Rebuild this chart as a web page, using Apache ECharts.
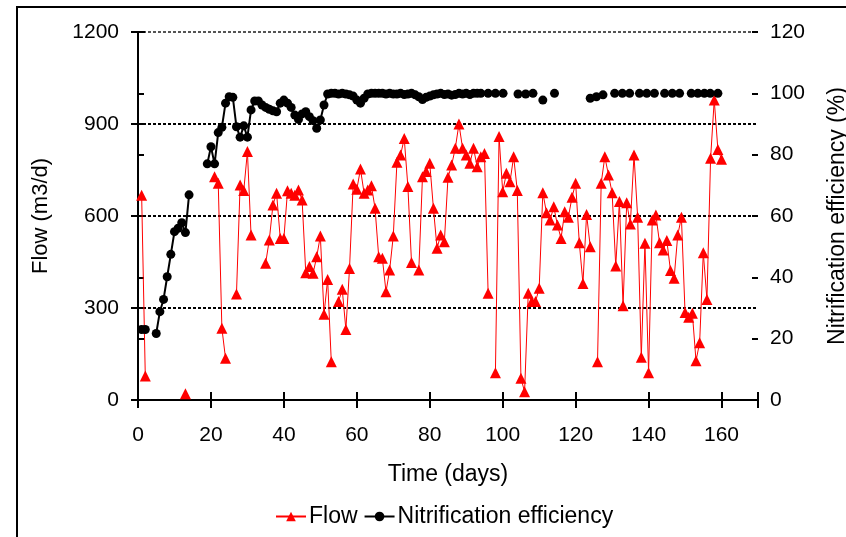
<!DOCTYPE html>
<html>
<head>
<meta charset="utf-8">
<title>Flow and nitrification efficiency</title>
<script src="https://cdn.jsdelivr.net/npm/echarts@6.0.0/dist/echarts.min.js"></script>
<style>
  html, body { margin: 0; padding: 0; background: #fff; }
  #chart { width: 846px; height: 537px; }
</style>
</head>
<body>
<div id="chart"></div>
<script>
const font = 'Liberation Sans, Arial, sans-serif'

// x axis (days) and the two y axes
const xTicks = [0, 20, 40, 60, 80, 100, 120, 140, 160]
const flowTicks = [0, 300, 600, 900, 1200]
const effTicks = [0, 20, 40, 60, 80, 100, 120]

// Flow (m3/d), null = no sample (line is broken there)
const flowDays = [
  1, 2, 3,
  13, 14,
  21, 22, 23, 24, 25,
  27, 28, 29, 30, 31, 32,
  35, 36, 37, 38, 39, 40, 41, 42, 43, 44, 45, 46, 47, 48, 49, 50, 51, 52, 53, 54,
  55, 56, 57, 58, 59, 60, 61, 62, 63, 64, 65, 66, 67, 68, 69, 70, 71, 72, 73, 74, 75, 76,
  77, 78, 79, 80, 81, 82, 83, 84, 85, 86, 87, 88, 89, 90, 91, 92, 93, 94, 95, 96, 97,
  98, 99, 100, 101, 102, 103, 104, 105, 106, 107, 108, 109, 110, 111, 112, 113, 114, 115,
  116, 117, 118, 119, 120, 121, 122, 123, 124, 125,
  126, 127, 128, 129, 130, 131, 132, 133, 134, 135, 136, 137, 138, 139, 140, 141, 142, 143,
  144, 145, 146, 147, 148, 149, 150, 151, 152, 153, 154, 155, 156, 157, 158, 159, 160
]
const flowValues = [
  668, 78, null,
  20, null,
  728, 707, 234, 136, null,
  346, 701, 683, 810, 538, null,
  446, 522, 636, 674, 527, 527, 682, 674, 668, 685, 652, 415, 435, 413, 467, 535, 280, 393, 125, null,
  321, 361, 230, 429, 704, 687, 753, 674, 685, 699, 625, 467, 462, 353, 424, 535, 775, 799, 853, 696, 448, null,
  424, 728, 745, 772, 625, 495, 538, 516, 726, 766, 821, 900, 821, 799, 772, 821, 761, 793, 804, 348, null,
  89, 859, 679, 739, 712, 793, 683, 71, 27, 348, 321, 321, 364, 676, 611, 587, 630, 571,
  527, 614, 596, 661, 707, 513, 380, 605, 500, null,
  125, 707, 793, 734, 676, 437, 647, 307, 643, 574, 799, 596, 139, 511, 89, 587, 603, 513,
  489, 520, 422, 397, 538, 596, 285, 270, 283, 128, 187, 480, 328, 788, 978, 817, 785
]

// Nitrification efficiency (%), null = no sample
const effDays = [
  1, 2, 3,
  5, 6, 7, 8, 9, 10, 11, 12, 13, 14, 15,
  19, 20, 21, 22, 23, 24, 25, 26, 27, 28, 29, 30, 31, 32, 33, 34, 35, 36, 37, 38, 39, 40,
  41, 42, 43, 44, 45, 46, 47, 48, 49, 50, 51, 52, 53, 54, 55, 56, 57, 58, 59, 60,
  61, 62, 63, 64, 65, 66, 67, 68, 69, 70, 71, 72, 73, 74, 75, 76, 77, 78, 79, 80,
  81, 82, 83, 84, 85, 86, 87, 88, 89, 90, 91, 92, 93, 94, 95,
  96, 97, 98, 99, 100.1, 102, 104.2, 105, 106.3, 107, 108.3, 110, 111, 112.5, 114.2, 118,
  124, 125, 125.7, 126.5, 127.5, 129, 130.7, 131.5, 132.8, 133.5, 134.8, 136, 137.5, 138.5,
  139.5, 140.5, 141.6, 143, 144.4, 145.5, 146.5, 147.5, 148.5, 150, 151.7, 152.5, 153.5, 154.5,
  155.3, 156, 156.9, 158, 159
]
const effValues = [
  23.0, 23.0, null,
  21.7, 28.8, 32.8, 40.2, 47.5, 54.9, 56.0, 57.8, 54.6, 66.9, null,
  77.0, 82.6, 77.0, 87.2, 88.9, 96.8, 98.9, 98.7, 89.1, 85.7, 89.4, 85.7, 94.6, 97.5, 97.5, 96.2, 95.4, 94.8, 94.3, 94.0, 96.8, 97.8,
  96.8, 95.4, 92.9, 91.5, 93.3, 94.0, 92.4, 91.1, 88.6, 91.3, 96.2, 99.8, 100, 100, 99.8, 100, 99.8, 99.5, 99.1, 97.8,
  96.8, 98.4, 99.8, 100, 100, 100, 100, 99.8, 100, 99.8, 99.8, 100, 99.6, 99.8, 100, 99.5, 98.9, 98.0, 98.7, 99.1,
  99.5, 99.8, 100, 99.6, 99.8, 99.4, 99.6, 100, 99.8, 100, 99.6, 100, 100, 100, null,
  100, null, 100, null, 100, null, 99.8, null, 99.8, null, 100, null, 97.8, null, 100, null,
  98.4, null, 98.9, null, 99.5, null, 100, null, 100, null, 100, null, 100, null,
  100, null, 100, null, 100, null, 100, null, 100, null, 100, null, 100, null,
  100, null, 100, null, 100
]

const flowData = flowDays.map((d, i) => [d, flowValues[i]])
const effData = effDays.map((d, i) => [d, effValues[i]])

const chart = echarts.init(document.getElementById('chart'))

const hidden = { show: false }
const labelStyle = { fontFamily: font, fontSize: 21, color: '#000', formatter: v => String(v) }

chart.setOption({
  animation: false,
  textStyle: { fontFamily: font },
  graphic: [{
    type: 'rect',
    shape: { x: 17, y: 7, width: 850, height: 550 },
    style: { fill: 'none', stroke: '#000', lineWidth: 2 },
    silent: true
  }],
  legend: {
    left: 270,
    top: 500,
    itemWidth: 30,
    itemHeight: 12,
    itemGap: 6,
    textStyle: { fontFamily: font, fontSize: 23, color: '#000', padding: [0, 0, 0, -2] },
    data: ['Flow', 'Nitrification efficiency']
  },
  grid: { left: 138, right: 88, top: 32, bottom: 137, outerBoundsMode: 'none' },
  xAxis: [{
    type: 'value',
    min: xTicks[0],
    max: 170,
    interval: 20,
    name: 'Time (days)',
    nameLocation: 'middle',
    nameGap: 63,
    nameTextStyle: { fontFamily: font, fontSize: 23, color: '#000' },
    axisLine: { lineStyle: { color: '#000', width: 2 } },
    axisTick: { length: 8, lineStyle: { color: '#000', width: 2 } },
    axisLabel: Object.assign({}, labelStyle, { margin: 25, formatter: v => (xTicks.indexOf(v) >= 0 ? String(v) : '') }),
    splitLine: hidden
  }, {
    // inner half of the crossing ticks
    type: 'value',
    position: 'bottom',
    min: xTicks[0],
    max: 170,
    interval: 20,
    axisLine: hidden,
    axisTick: { inside: true, length: 8, lineStyle: { color: '#000', width: 2 } },
    axisLabel: hidden,
    splitLine: hidden
  }],
  yAxis: [{
    type: 'value',
    position: 'left',
    min: flowTicks[0],
    max: flowTicks[flowTicks.length - 1],
    interval: 300,
    name: 'Flow (m3/d)',
    nameLocation: 'middle',
    nameGap: 86,
    nameTextStyle: { fontFamily: font, fontSize: 22, color: '#000' },
    axisLine: { show: true, lineStyle: { color: '#000', width: 2 } },
    axisTick: { show: true, length: 7, lineStyle: { color: '#000', width: 2 } },
    axisLabel: Object.assign({}, labelStyle, { margin: 19 }),
    splitLine: {
      show: true,
      lineStyle: { color: ['#000', '#000', '#000', '#000', '#555'], width: 2, type: [3, 2] }
    }
  }, {
    type: 'value',
    position: 'right',
    min: effTicks[0],
    max: effTicks[effTicks.length - 1],
    interval: 20,
    name: 'Nitrification efficiency (%)',
    nameLocation: 'middle',
    nameRotate: 90,
    nameGap: 68,
    nameTextStyle: { fontFamily: font, fontSize: 23, color: '#000' },
    axisLine: { show: true, lineStyle: { color: '#000', width: 2 } },
    axisTick: { show: true, length: 6, lineStyle: { color: '#000', width: 2 } },
    axisLabel: Object.assign({}, labelStyle, { margin: 12 }),
    splitLine: hidden
  }, {
    type: 'value',
    position: 'left',
    min: 0,
    max: 1200,
    interval: 300,
    axisLine: hidden,
    axisTick: { show: true, inside: true, length: 7, lineStyle: { color: '#000', width: 2 } },
    axisLabel: hidden,
    splitLine: hidden
  }, {
    type: 'value',
    position: 'right',
    min: 0,
    max: 120,
    interval: 20,
    axisLine: hidden,
    axisTick: { show: true, inside: true, length: 6, lineStyle: { color: '#000', width: 2 } },
    axisLabel: hidden,
    splitLine: hidden
  }],
  series: [{
    name: 'Flow',
    type: 'line',
    xAxisIndex: 0,
    yAxisIndex: 0,
    data: flowData,
    connectNulls: false,
    symbol: 'triangle',
    symbolSize: 11,
    itemStyle: { color: '#ff0000' },
    lineStyle: { color: '#ff0000', width: 1 }
  }, {
    name: 'Nitrification efficiency',
    type: 'line',
    xAxisIndex: 0,
    yAxisIndex: 1,
    data: effData,
    connectNulls: false,
    symbol: 'circle',
    symbolSize: 9,
    itemStyle: { color: '#000' },
    lineStyle: { color: '#000', width: 2 }
  }]
})
</script>
</body>
</html>
